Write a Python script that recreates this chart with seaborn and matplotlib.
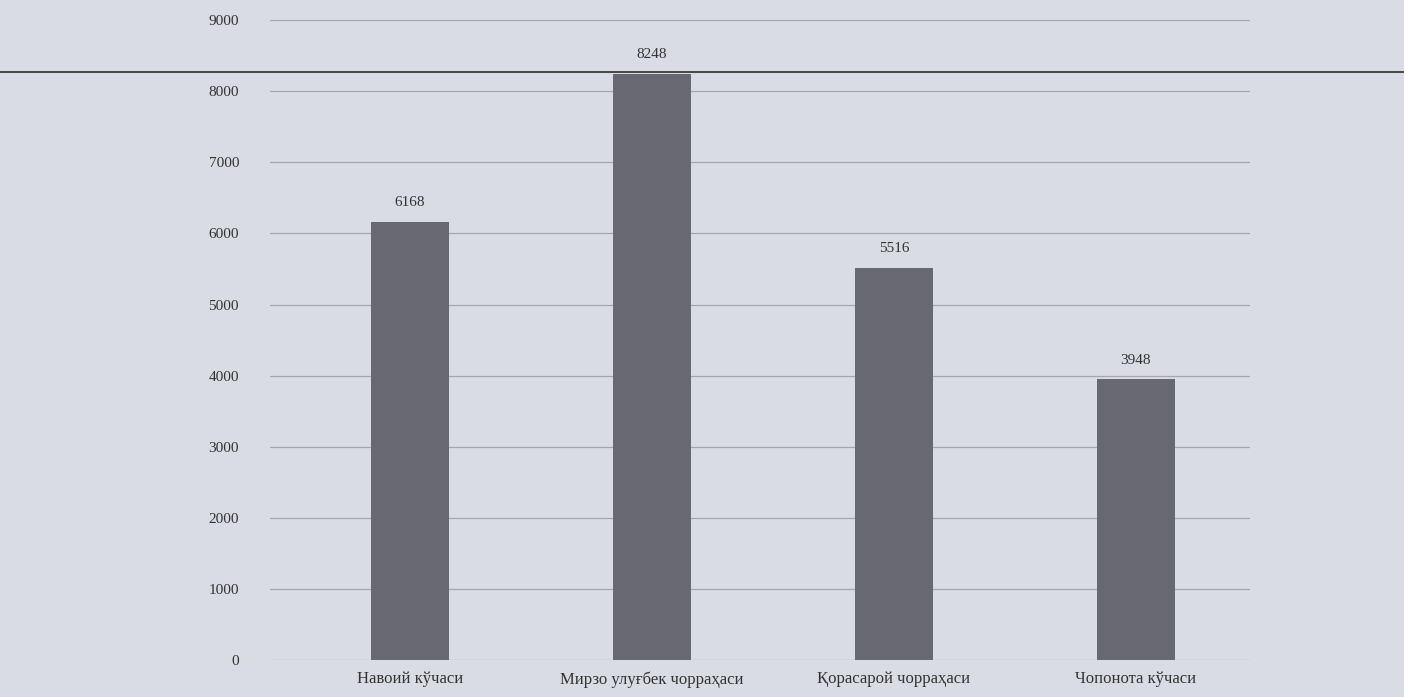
import matplotlib
matplotlib.use("Agg")
import matplotlib.pyplot as plt
import seaborn as sns
import pandas as pd
from matplotlib.lines import Line2D

streets = ["Навоий кўчаси", "Мирзо улуғбек чорраҳаси", "Қорасарой чорраҳаси", "Чопонота кўчаси"]
counts = [6168, 8248, 5516, 3948]
yticks = [0, 1000, 2000, 3000, 4000, 5000, 6000, 7000, 8000, 9000]

sns.set_style("white")
plt.rcParams["font.family"] = ["Liberation Serif", "DejaVu Serif"]

bg = "#d9dce3"
df = pd.DataFrame({"street": streets, "count": counts})

fig = plt.figure(figsize=(14.04, 6.97), dpi=100, facecolor=bg)
ax = fig.add_axes([0.192, 0.053, 0.698, 0.918], facecolor=bg)

sns.barplot(data=df, x="street", y="count", color="#686873", width=0.32,
            saturation=1, linewidth=0, edgecolor="none", ax=ax, zorder=3)

for i, v in enumerate(counts):
    ax.text(i, v + 180, str(v), ha="center", va="bottom", fontsize=11, color="#333333")

ax.set_ylim(0, 9000)
ax.set_xlim(-0.58, 3.47)
ax.set_yticks(yticks)
ax.set_yticklabels([str(t) for t in yticks], fontsize=11, color="#333333")
ax.tick_params(axis="x", labelsize=12, colors="#333333", length=0, pad=8)
ax.tick_params(axis="y", length=0, pad=22)
ax.yaxis.grid(True, color="#a4a6ad", linewidth=0.9, zorder=0)
ax.set_xlabel("")
ax.set_ylabel("")
for s in ax.spines.values():
    s.set_visible(False)

# page edge seen across the photo
fig.add_artist(Line2D([0, 1], [0.897, 0.897], color="#3a3a3a", linewidth=1.3, zorder=10))

fig.savefig("out.png", dpi=100, facecolor=bg)
plt.close(fig)
